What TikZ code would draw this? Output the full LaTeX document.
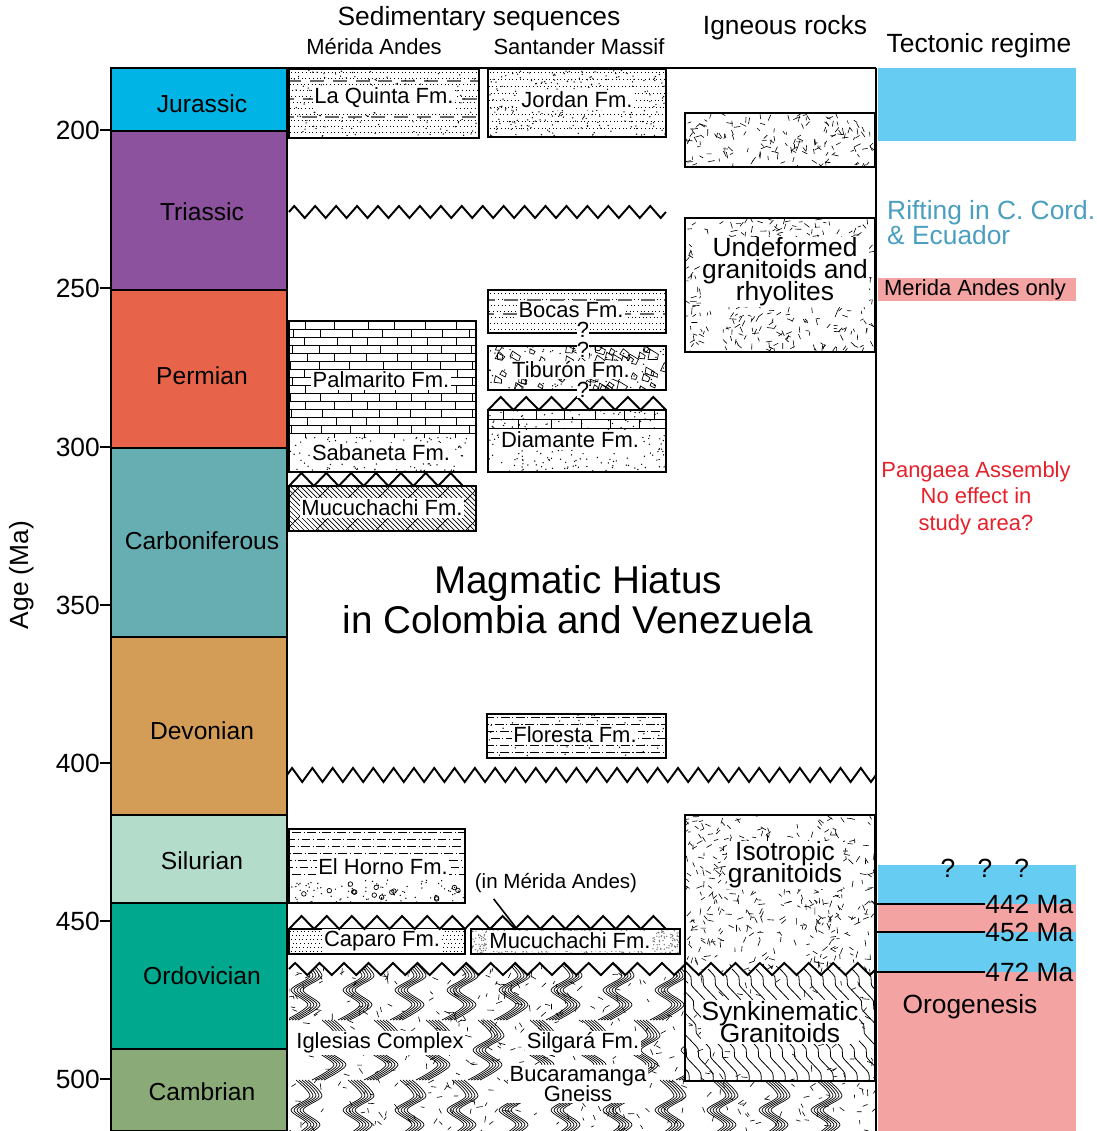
\documentclass[tikz,border=0pt]{standalone}
\usepackage{fontspec}
\setmainfont{Liberation Sans}
\usetikzlibrary{positioning}

\definecolor{jurassic}{HTML}{00B5E5}
\definecolor{triassic}{HTML}{8C529E}
\definecolor{permian}{HTML}{E7644A}
\definecolor{carbon}{HTML}{67AEB2}
\definecolor{devonian}{HTML}{D39D58}
\definecolor{silurian}{HTML}{B3DCCB}
\definecolor{ordovician}{HTML}{00A88E}
\definecolor{cambrian}{HTML}{8AAB78}
\definecolor{riftblue}{HTML}{66CCF2}
\definecolor{orogpink}{HTML}{F4A3A3}
\definecolor{rifttxt}{HTML}{4A9EC0}
\definecolor{pangaeared}{HTML}{E6202A}

\newcommand\tightskip{\lineskiplimit=-20pt\relax}

% fill patterns, all in (x1,y1,x2,y2,...) pixel units
\newcommand\sandpat[6][black]{%
  \foreach \i in {1,...,#6}{\fill[#1] ({#2+rnd*(#4-#2)},{#3+rnd*(#5-#3)}) circle (0.42pt);}}
\newcommand\ignpat[5]{%
  \foreach \i in {1,...,#5}{\draw[ignline] ({#1+rnd*(#3-#1)},{#2+rnd*(#4-#2)}) -- ++({rnd*180}:{3+rnd*4});}}
\newcommand\rowpat[6]{%
  \pgfmathtruncatemacro\nrows{(#4-#2)/#5}%
  \foreach \k in {1,...,\nrows}{\draw[#6] ({#1-rnd*12},{#2+#5*\k-#5/2}) -- (#3,{#2+#5*\k-#5/2});}}
\newcommand\brickpat[5]{%
  \pgfmathtruncatemacro\nrows{ceil((#4-#2)/#5)}%
  \foreach \k in {1,...,\nrows}{%
    \draw[brickline] (#1,{#2+#5*\k}) -- (#3,{#2+#5*\k});
    \foreach \c in {0,...,7}{\draw[brickline] ({#1+mod(\k,2)*15+30*\c+rnd*4},{#2+#5*(\k-1)}) -- ++(0,#5);}}}
\newcommand\conglpat[5]{%
  \foreach \i in {1,...,#5}{%
    \pgfmathsetmacro\cx{#1+rnd*(#3-#1)}\pgfmathsetmacro\cy{#2+rnd*(#4-#2)}\pgfmathsetmacro\rr{2.5+rnd*3}%
    \draw[cgline] ({\cx+\rr},\cy) -- ({\cx+rnd*\rr},{\cy+\rr}) -- ({\cx-\rr},{\cy+rnd*\rr}) -- ({\cx-rnd*\rr},{\cy-\rr}) -- cycle;}}
\newcommand\gnbundle[2]{%
  \foreach \k in {0,...,4}{\draw[gnline] plot[smooth] coordinates {({#1-14+3*\k},{#2+30}) ({#1+8+3*\k},{#2+15}) ({#1-9+3*\k},{#2}) ({#1+10+3*\k},{#2-14}) ({#1-4+3*\k},{#2-30})};}}
\newcommand\zzline[5]{%
  \draw[zzstyle] (#1,#2) \foreach \i in {1,...,#3}{-- ++({#4/4},{-#5}) -- ++({#4/2},{2*#5}) -- ++({#4/4},{-#5})};}
\newcommand\sawline[5]{%
  \draw[zzstyle] (#1,#2) \foreach \i in {1,...,#3}{-- ++({#4/2},{-#5}) -- ++({#4/2},{#5})};}

\begin{document}
\begin{tikzpicture}[x=0.02cm,y=-0.02cm,
  period/.style={draw=black,line width=1.1pt},
  fmline/.style={line width=1.1pt},
  frame/.style={line width=1.1pt},
  zzstyle/.style={line width=1.1pt,line join=miter},
  ignline/.style={line width=0.35pt},
  siltdot/.style={line width=0.5pt,dash pattern=on 0.5pt off 1.6pt},
  siltdash/.style={line width=0.6pt,black!60,dash pattern=on 8pt off 5pt},
  shaleline/.style={line width=0.45pt,dash pattern=on 5pt off 1.5pt on 0.6pt off 1.5pt},
  brickline/.style={line width=0.45pt},
  cgline/.style={line width=0.4pt},
  gnline/.style={line width=0.4pt},
  synline/.style={line width=0.45pt},
  hatchline/.style={line width=0.4pt},
  periodlabel/.style={font=\fontsize{14}{16}\selectfont},
  fmlabel/.style={fill=white,inner sep=1pt,font=\fontsize{12.5}{14}\selectfont},
  ignlabel/.style={fill=white,inner sep=0.5pt,align=center,font=\fontsize{15}{12.6}\selectfont\tightskip},
  headlabel/.style={font=\fontsize{15}{17}\selectfont},
  sublabel/.style={font=\fontsize{12.5}{14}\selectfont},
  ticklabel/.style={anchor=east,inner sep=0.5pt,font=\fontsize{15}{17}\selectfont},
  malabel/.style={anchor=west,inner sep=0pt,font=\fontsize{15}{17}\selectfont},
  qlabel/.style={fill=white,inner sep=0pt,font=\fontsize{12.5}{14}\selectfont}]
\pgfmathsetseed{7}
\useasboundingbox (0,0) rectangle (1096,1131);

% tectonic regime column
\fill[riftblue] (878,68) rectangle (1076,141);
\fill[orogpink] (878,278) rectangle (1076,301);
\fill[riftblue] (878,865) rectangle (1076,904);
\fill[orogpink] (878,904) rectangle (1076,932);
\fill[riftblue] (878,932) rectangle (1076,972);
\fill[orogpink] (878,972) rectangle (1076,1131);

% periods
\foreach \ya/\yb/\yl/\col/\name in {68/131/104/jurassic/Jurassic,131/290/212/triassic/Triassic,
    290/448/376/permian/Permian,448/637/541/carbon/Carboniferous,637/815/731/devonian/Devonian,
    815/903/861/silurian/Silurian,903/1049/976/ordovician/Ordovician,1049/1131/1092/cambrian/Cambrian}{
  \draw[period,fill=\col] (111,\ya) rectangle (287,\yb);
  \node[periodlabel] (per_\col) at (202,\yl) {\name};
}
\foreach \a/\yy in {200/130,250/288,300/447,350/605,400/763,450/921,500/1079}{
  \draw[frame] (100,\yy) -- (111,\yy);
  \node[ticklabel] (tick_\a) at (101,\yy) {\a};
}
\node[headlabel,rotate=90] (age_txt) at (22,575) {Age (Ma)};

% headers
\node[headlabel] (sed_txt) at (479,19) {Sedimentary sequences};
\node[sublabel] (merida_txt) at (374,47) {Mérida Andes};
\node[sublabel] (santander_txt) at (579,47) {Santander Massif};
\node[headlabel] (ign_txt) at (785,28) {Igneous rocks};
\node[headlabel] (tect_txt) at (979,46) {Tectonic regime};

% La Quinta Fm.
\begin{scope}
  \clip (289,69) rectangle (479,138);
  \rowpat{289}{69}{479}{138}{6}{siltdot}
  \rowpat{289}{72}{479}{138}{18}{siltdash}
  \sandpat{289}{69}{479}{138}{120}
\end{scope}
\draw[fmline] (289,69) rectangle (479,138);
\node[fmlabel] (laquinta) at (384,98) {La Quinta Fm.};

% Jordan Fm.
\begin{scope}
  \clip (488,69) rectangle (666,137);
  \rowpat{488}{69}{666}{137}{7}{siltdot}
  \sandpat{488}{69}{666}{137}{260}
\end{scope}
\draw[fmline] (488,69) rectangle (666,137);
\node[fmlabel] (jordan) at (577,100) {Jordan Fm.};

% Triassic unconformity
\zzline{289}{212}{18}{20.94}{6}

% Bocas Fm.
\begin{scope}
  \clip (488,290) rectangle (666,333);
  \rowpat{488}{290}{666}{333}{6}{siltdot}
  \rowpat{488}{293}{666}{333}{14}{siltdash}
\end{scope}
\draw[fmline] (488,290) rectangle (666,333);
\node[fmlabel] (bocas) at (571,310) {Bocas Fm.};

% Tiburon Fm.
\begin{scope}
  \clip (488,346) rectangle (666,390);
  \conglpat{488}{346}{666}{390}{60}
  \sandpat{488}{346}{666}{390}{80}
\end{scope}
\draw[fmline] (488,346) rectangle (666,390);
\node[fmlabel,inner sep=0.5pt] (tiburon) at (571,370) {Tiburón Fm.};

% Diamante Fm.
\begin{scope}
  \clip (488,410) rectangle (666,472);
  \brickpat{488}{410}{666}{428}{9}
  \sandpat{488}{410}{666}{472}{220}
\end{scope}
\draw[fmline] (488,410) rectangle (666,472);
\sawline{488}{410}{7}{25.43}{13}
\node[fmlabel] (diamante) at (570,440) {Diamante Fm.};

\node[qlabel] (q_bocas) at (583,330) {?};
\node[qlabel] (q_tiburon) at (583,350) {?};
\node[qlabel] (q_diamante) at (583,390) {?};

% Palmarito / Sabaneta Fm.
\begin{scope}
  \clip (289,321) rectangle (476,437);
  \brickpat{289}{321}{476}{437}{8}
\end{scope}
\begin{scope}
  \clip (289,437) rectangle (476,472);
  \sandpat{289}{437}{476}{472}{150}
\end{scope}
\draw[fmline] (289,321) rectangle (476,472);
\node[fmlabel] (palmarito) at (381,380) {Palmarito Fm.};
\node[fmlabel] (sabaneta) at (381,453) {Sabaneta Fm.};

% Mucuchachi Fm. (upper)
\begin{scope}
  \clip (289,486) rectangle (476,531);
  \foreach \o in {230,235,...,480}{\draw[hatchline] (\o,486) -- ++(50,50);}
  \foreach \o in {300,330,...,520}{\draw[hatchline] (\o,486) -- ++(-50,50);}
\end{scope}
\draw[fmline] (289,486) rectangle (476,531);
\sawline{289}{486}{7}{24.86}{13}
\node[fmlabel] (mucuchachi_up) at (382,508) {Mucuchachi Fm.};

% igneous, Mesozoic
\begin{scope}
  \clip (685,113) rectangle (875,167);
  \ignpat{685}{113}{875}{167}{170}
\end{scope}
\draw[fmline] (685,113) rectangle (875,167);
\begin{scope}
  \clip (685,218) rectangle (875,352);
  \ignpat{685}{218}{875}{352}{400}
\end{scope}
\draw[fmline] (685,218) rectangle (875,352);
\node[ignlabel] (undeformed) at (785,272) {Undeformed\\granitoids and\\rhyolites};

\node[align=center,font=\fontsize{22}{22.8}\selectfont] (hiatus) at (578,600) {Magmatic Hiatus\\in Colombia and Venezuela};

% Floresta Fm.
\begin{scope}
  \clip (487,714) rectangle (666,758);
  \rowpat{487}{714}{666}{758}{7}{shaleline}
  \sandpat{487}{714}{666}{758}{40}
\end{scope}
\draw[fmline] (487,714) rectangle (666,758);
\node[fmlabel] (floresta) at (575,735) {Floresta Fm.};

% Devonian unconformity
\zzline{287}{775}{29}{20.31}{7}

% El Horno Fm.
\begin{scope}
  \clip (289,829) rectangle (465,903);
  \rowpat{289}{829}{465}{880}{7}{shaleline}
  \sandpat{289}{880}{465}{903}{90}
  \foreach \i in {1,...,14}{\draw[cgline] ({292+rnd*170},{884+rnd*16}) circle (1.3pt);}
\end{scope}
\draw[fmline] (289,829) rectangle (465,903);
\node[fmlabel] (elhorno) at (383,867) {El Horno Fm.};

% Caparo and Mucuchachi Fm. (lower)
\begin{scope}
  \clip (289,929) rectangle (465,954);
  \rowpat{289}{929}{465}{954}{4}{siltdot}
\end{scope}
\draw[fmline] (289,929) rectangle (465,954);
\node[fmlabel] (caparo) at (382,941) {Caparo Fm.};
\begin{scope}
  \clip (471,929) rectangle (680,954);
  \sandpat[black!55]{471}{929}{680}{954}{650}
\end{scope}
\draw[fmline] (471,929) rectangle (680,954);
\node[fmlabel] (mucuchachi_low) at (570,941) {Mucuchachi Fm.};
\sawline{289}{929}{15}{25.13}{13}

\node[font=\fontsize{11.7}{13}\selectfont] (inmerida) at (556,883) {(in Mérida Andes)};
\coordinate (mucuchachi_tip) at (517,929);
\draw[line width=0.9pt] ([xshift=0.5cm]inmerida.south west) -- (mucuchachi_tip);

% igneous, Paleozoic
\begin{scope}
  \clip (685,815) rectangle (875,975);
  \ignpat{685}{815}{875}{975}{480}
\end{scope}

% basement
\begin{scope}
  \clip (289,969) \foreach \i in {1,...,24}{-- ++(6.115,-6) -- ++(12.23,12) -- ++(6.115,-6)} -- (876,1131) -- (289,1131) -- cycle;
  \ignpat{289}{960}{876}{1131}{520}
  \foreach \gy/\off in {990/0,1050/26,1110/0}{
    \foreach \gx in {300,352,...,870}{\gnbundle{\gx+\off}{\gy}}
  }
  \fill[white] (685,955) rectangle (875,1081);
  \begin{scope}
    \clip (685,955) rectangle (875,1081);
    \foreach \o in {600,612,...,880}{\draw[synline] plot[smooth,domain=0:112,samples=15] ({\o+0.6*\x+2.5*sin(\x*15)},{969+\x});}
    \ignpat{685}{969}{875}{1081}{60}
  \end{scope}
\end{scope}
\zzline{289}{969}{24}{24.46}{6}
\draw[fmline] (685,815) rectangle (875,1081);
\node[ignlabel] (isotropic) at (785,865) {Isotropic\\granitoids};
\node[ignlabel] (synkinematic) at (780,1022) {Synkinematic\\Granitoids};
\node[fmlabel] (iglesias) at (380,1043) {Iglesias Complex};
\node[fmlabel] (silgara) at (583,1043) {Silgará Fm.};
\node[fmlabel,align=center,font=\fontsize{12.5}{11}\selectfont\tightskip] (bucaramanga) at (578,1084) {Bucaramanga\\Gneiss};

% frame
\draw[frame] (111,68) -- (876,68);
\draw[frame] (876,68) -- (876,1131);

% tectonic regime texts
\node[anchor=west,align=left,text=rifttxt,font=\fontsize{15}{14.2}\selectfont\tightskip] (rifting) at (881,223) {Rifting in C. Cord.\\\& Ecuador};
\node[anchor=west,inner sep=1pt,font=\fontsize{12.5}{14}\selectfont] (meridaonly) at (882,290) {Merida Andes only};
\node[align=center,text=pangaeared,font=\fontsize{12.5}{15}\selectfont] (pangaea) at (976,498) {Pangaea Assembly\\No effect in\\study area?};
\node[qlabel,fill=none,font=\fontsize{15}{17}\selectfont] at (948,868) (q_a) {?};
\node[qlabel,fill=none,font=\fontsize{15}{17}\selectfont,right=0.43cm of q_a] (q_b) {?};
\node[qlabel,fill=none,font=\fontsize{15}{17}\selectfont,right=0.43cm of q_b] (q_c) {?};
\foreach \m/\yy in {442/904,452/932,472/972}{
  \node[malabel] (ma_\m) at (985,\yy) {\m{} Ma};
  \coordinate (ma_\m_start) at (876,\yy);
  \draw[line width=1.1pt] (ma_\m_start) -- (ma_\m);
}
\node[font=\fontsize{15}{17}\selectfont] (orogenesis) at (970,1007) {Orogenesis};
\end{tikzpicture}
\end{document}
